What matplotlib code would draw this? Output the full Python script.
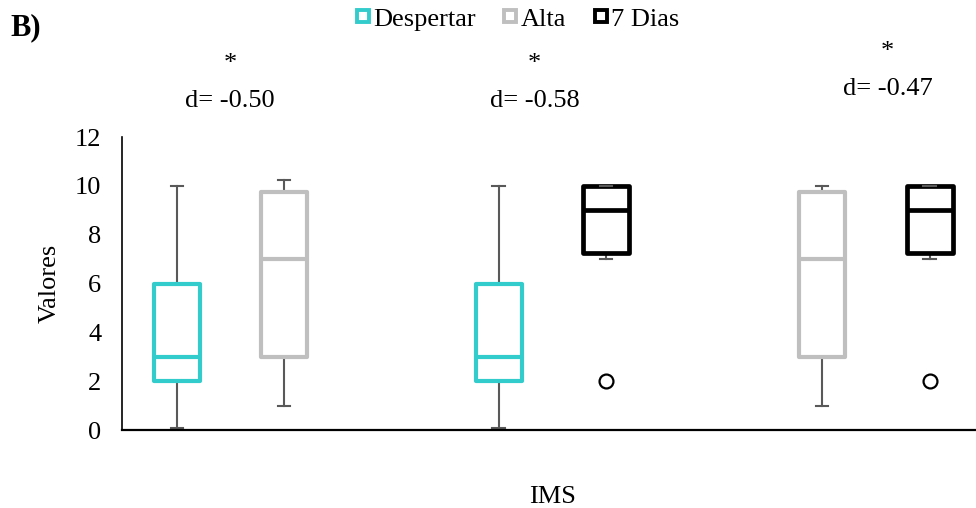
import matplotlib
matplotlib.use("Agg")
import matplotlib.pyplot as plt
from matplotlib.lines import Line2D

plt.rcParams['font.family'] = ['Liberation Serif', 'DejaVu Serif']

# --- Data ---
series = ['Despertar', 'Alta', '7 Dias']
colors = {'Despertar': '#33CCCC', 'Alta': '#BFBFBF', '7 Dias': '#000000'}

# each box: series, position, whislo, q1, med, q3, whishi, outliers
box_series = ['Despertar', 'Alta', 'Despertar', '7 Dias', 'Alta', '7 Dias']
box_pos = [0.193, 0.569, 1.324, 1.700, 2.459, 2.838]
whislo = [0.1, 1.0, 0.1, 7.0, 1.0, 7.0]
q1 = [2.0, 3.0, 2.0, 7.25, 3.0, 7.25]
med = [3.0, 7.0, 3.0, 9.0, 7.0, 9.0]
q3 = [6.0, 9.75, 6.0, 10.0, 9.75, 10.0]
whishi = [10.0, 10.25, 10.0, 10.0, 10.0, 10.0]
fliers = [[], [], [], [2.0], [], [2.0]]

stars_x = [0.38, 1.45, 2.69]
stars_y = [15.0, 15.0, 15.5]
d_labels = ['d= -0.50', 'd= -0.58', 'd= -0.47']
d_y = [13.5, 13.5, 13.97]

fig = plt.figure(figsize=(9.76, 5.08), dpi=100)
ax = fig.add_axes([0.125, 0.1535, 0.875, 0.5765])

for i, s in enumerate(box_series):
    c = colors[s]
    lw = 3.4 if s == '7 Dias' else 3.0
    st = [dict(whislo=whislo[i], q1=q1[i], med=med[i], q3=q3[i],
               whishi=whishi[i], fliers=fliers[i])]
    ax.bxp(st, positions=[box_pos[i]], widths=0.16, patch_artist=True,
           boxprops=dict(facecolor='white', edgecolor=c, linewidth=lw,
                         joinstyle='round', zorder=2),
           medianprops=dict(color=c, linewidth=lw),
           whiskerprops=dict(color='#595959', linewidth=1.5, zorder=1),
           capprops=dict(color='#595959', linewidth=1.5),
           capwidths=0.045,
           flierprops=dict(marker='o', markerfacecolor='white',
                           markeredgecolor='black', markersize=10,
                           markeredgewidth=1.6),
           manage_ticks=False)

ax.set_xlim(0, 3)
ax.set_ylim(0, 12)
ax.set_yticks(range(0, 13, 2))
ax.set_xticks([])
ax.tick_params(axis='y', length=0, pad=15, labelsize=19)
ax.spines['top'].set_visible(False)
ax.spines['right'].set_visible(False)
ax.spines['left'].set_linewidth(1.2)
ax.spines['bottom'].set_linewidth(1.6)
ax.set_ylabel('Valores', fontsize=19, labelpad=10)

fig.text(0.566, 0.022, 'IMS', ha='center', va='center', fontsize=19)

for x, ys, yd, t in zip(stars_x, stars_y, d_y, d_labels):
    ax.text(x, ys, '*', ha='center', va='center', fontsize=19, clip_on=False)
    ax.text(x, yd, t, ha='center', va='center', fontsize=19, clip_on=False)

fig.text(0.011, 0.945, 'B)', fontsize=22, fontweight='bold', va='center')

handles = [Line2D([], [], marker='s', linestyle='none', markersize=8.5,
                  markerfacecolor='white', markeredgecolor=colors[s],
                  markeredgewidth=2.8) for s in series]
fig.legend(handles, series, loc='center', bbox_to_anchor=(0.53, 0.963),
           ncol=3, frameon=False, fontsize=19, handletextpad=0.1,
           columnspacing=1.0, handlelength=0.6)

fig.savefig('out.png', dpi=100)
